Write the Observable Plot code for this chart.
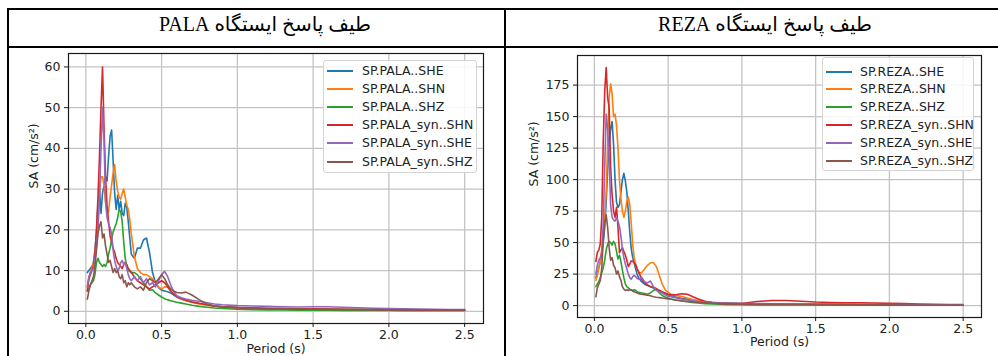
<!DOCTYPE html>
<html>
<head>
<meta charset="utf-8">
<script src="https://cdn.jsdelivr.net/npm/d3@7"></script>
<script src="https://cdn.jsdelivr.net/npm/@observablehq/plot@0.6"></script>
<style>
html, body { margin: 0; padding: 0; background: #fff; }
#page { position: relative; width: 998px; height: 356px; overflow: hidden; background: #fff; font-family: "DejaVu Sans", sans-serif; }
.rule { position: absolute; background: #000; }
.head { position: absolute; top: 12px; font-family: "Liberation Serif", "DejaVu Sans", serif; font-size: 20px; line-height: 24px; color: #000; white-space: nowrap; transform: translateX(-50%); }
.chart { position: absolute; top: 48px; }
.chart svg { overflow: visible; }
.legend { position: absolute; border: 1px solid #d4d4d4; border-radius: 3px; background: rgba(255,255,255,0.85); box-sizing: border-box; }
.legend .swatch { position: absolute; left: 3px; width: 26px; height: 2px; }
.legend .label { position: absolute; font-family: "DejaVu Sans", sans-serif; font-size: 12.5px; line-height: 16px; color: #222; white-space: nowrap; }
</style>
</head>
<body>
<div id="page">
  <div class="rule" style="left:7px; top:8px; width:991px; height:2px;"></div>
  <div class="rule" style="left:7px; top:46px; width:991px; height:2px;"></div>
  <div class="rule" style="left:7px; top:8px; width:2px; height:348px;"></div>
  <div class="rule" style="left:504px; top:8px; width:2px; height:348px;"></div>
  <div class="head" dir="rtl" style="left:265px;">طیف پاسخ ایستگاه PALA</div>
  <div class="head" dir="rtl" style="left:765px;">طیف پاسخ ایستگاه REZA</div>
  <div id="left" class="chart" style="left:10px;"></div>
  <div id="right" class="chart" style="left:507px;"></div>
</div>
<script>
const periods = [
  0.01,0.02,0.03,0.04,0.05,0.06,0.07,0.08,0.09,0.10,
  0.11,0.12,0.13,0.14,0.15,0.16,0.17,0.18,0.19,0.20,
  0.21,0.22,0.23,0.24,0.25,0.26,0.27,0.28,0.29,0.30,
  0.32,0.34,0.36,0.38,0.40,0.42,0.44,0.46,0.48,0.50,
  0.52,0.54,0.56,0.58,0.60,0.63,0.66,0.70,0.75,0.80,
  0.85,0.90,1.0,1.1,1.2,1.3,1.4,1.5,1.6,1.7,
  1.8,1.9,2.0,2.1,2.2,2.3,2.4,2.5
];

const palaNames = ["SP.PALA..SHE", "SP.PALA..SHN", "SP.PALA..SHZ", "SP.PALA_syn..SHN", "SP.PALA_syn..SHE", "SP.PALA_syn..SHZ"];
const rezaNames = ["SP.REZA..SHE", "SP.REZA..SHN", "SP.REZA..SHZ", "SP.REZA_syn..SHN", "SP.REZA_syn..SHE", "SP.REZA_syn..SHZ"];
const seriesColors = ["#1f77b4", "#ff7f0e", "#2ca02c", "#d62728", "#9467bd", "#8c564b"];

const xTicks = [0, 0.5, 1.0, 1.5, 2.0, 2.5];
const palaYTicks = [0, 10, 20, 30, 40, 50, 60];
const rezaYTicks = [0, 25, 50, 75, 100, 125, 150, 175];

const palaSHE = [
  9.5,10,10.5,11,12,15,19,26,30,24,
  29,31,33,32,38,43,44.5,37,29,25,
  28.5,25,27,24,23.5,26.5,25.5,22,18,14,
  13,15.5,15.5,17.5,18,14.5,9.5,7,5.8,5.2,
  5,4.8,4.5,4,3.5,3,2.7,2.3,1.9,1.6,
  1.3,1.1,0.9,0.8,0.7,0.65,0.6,0.55,0.5,0.45,
  0.42,0.4,0.37,0.35,0.33,0.3,0.3,0.28
];
const palaSHN = [
  6,8,9.5,10.5,12,14,18,22,29,33,
  33,31,27,24,24.5,28,31,34,36,32,
  29.5,28,27.5,29,30,28,26,25,22.5,19,
  13.5,10.5,9.5,9,9,8.5,8,7,6,5.5,
  6,6,5,4.2,3.6,3,2.6,2.2,1.8,1.5,
  1.2,1.0,0.8,0.7,0.6,0.55,0.5,0.48,0.45,0.42,
  0.4,0.37,0.35,0.33,0.31,0.3,0.28,0.27
];
const palaSHZ = [
  5,5.5,6.5,7,7.5,9,12,13,12,11.5,
  11,11.5,11,12,14,15.5,17.5,19.5,20.5,21.5,
  23,25,24.5,22,17,13,11,10,9.8,9.5,
  9.5,9,8,7,6,5.2,5.3,4.5,4,3.5,
  3.1,2.8,2.6,2.4,2.2,2,1.8,1.5,1.2,1.0,
  0.8,0.7,0.5,0.4,0.35,0.3,0.28,0.25,0.24,0.22,
  0.2,0.2,0.18,0.17,0.16,0.15,0.15,0.14
];
const palaSynSHN = [
  5,8,9,10,11,14,20,28,38,50,
  60,45,33,26,22,18.5,17,15.5,14.5,13,
  12,11.5,11,10.5,11.5,12,11.5,10.5,10,9.5,
  8.5,7.5,7,6.5,6,5.5,6,6.5,7,7.5,
  7,6,5,4.2,3.6,3.1,2.7,2.3,1.9,1.6,
  1.3,1.1,0.9,0.8,0.7,0.65,0.6,0.6,0.55,0.5,
  0.45,0.42,0.4,0.38,0.35,0.33,0.3,0.3
];
const palaSynSHE = [
  6,8.5,9.5,10,10.5,13,16,20,28,40,
  50,42,27,23,21.5,20.5,19,15,12.5,11,
  10,10.5,12,12.5,11.5,12,10.5,9,8,7.5,
  8.5,7.5,8.5,7,8,6.5,7,6,7.5,9,
  9.8,8.5,6.5,4.8,3.8,3.3,3,2.7,2.4,2.1,
  1.8,1.6,1.4,1.3,1.2,1.1,1.05,1.1,1.1,1.0,
  0.85,0.75,0.65,0.6,0.55,0.5,0.45,0.4
];
const palaSynSHZ = [
  3,5,6.5,7.5,8.5,11,15,19,21,22,
  18,19,16,14,12,12.5,11,9.5,10.5,9.5,
  10,8.5,8,9,7,7.5,6,7,6.5,7,
  6,5.5,6,5.2,7,8,7.5,7,8,9,
  8,6.5,5.5,5,4.6,4.5,4.7,4,2.8,1.8,
  1.3,1.1,0.9,0.75,0.65,0.6,0.55,0.5,0.48,0.45,
  0.42,0.4,0.38,0.35,0.33,0.3,0.3,0.28
];

const rezaSHE = [
  22,26,30,35,41,50,62,82,108,128,
  140,146,128,100,82,78,80,90,100,105,
  99,90,75,58,45,38,34,29,25,22,
  19,17,16,15,14,13,12,10.5,9.5,8.5,
  7.5,7,6.5,6,5.5,5,4.3,3.6,3,2.5,
  2.2,2,1.7,1.5,1.4,1.3,1.2,1.1,1.0,0.95,
  0.9,0.85,0.8,0.75,0.7,0.65,0.6,0.55
];
const rezaSHN = [
  20,24,30,35,45,55,70,90,130,165,
  176,168,150,152,143,125,100,85,75,70,
  75,83,86,80,65,48,38,33,29,26,
  26,29,32,34,34,31,24,17,12.5,10.5,
  9,8.5,8,7.5,7,6,5,4,3.2,2.6,
  2.2,1.9,1.6,1.4,1.3,1.2,1.1,1.0,0.95,0.9,
  0.85,0.8,0.75,0.7,0.65,0.6,0.58,0.55
];
const rezaSHZ = [
  15,17,19,22,26,30,36,44,49,51,
  50,48,51,49,43,37,40,35,28,22,
  17,15,14,13,12.5,12,12.5,12,11,10.5,
  10,9.5,9,10,12,13,10,8,6.8,6,
  5.2,4.6,4.2,3.8,3.4,3,2.5,2,1.6,1.3,
  1.1,0.9,0.7,0.6,0.55,0.5,0.48,0.45,0.42,0.4,
  0.38,0.36,0.35,0.33,0.32,0.3,0.3,0.28
];
const rezaSynSHN = [
  35,42,44,49,70,130,170,189,165,157,
  110,88,75,70,78,62,42,44,46,43,
  40,36,31,33,35.5,35,34,32,29,27,
  21,18,16.5,15,14.5,13.5,12,11,10,9,
  8.5,8.5,8.8,9.2,9.3,9,7.5,5.5,3.4,2.3,
  1.8,1.6,1.6,3.2,4,4,3.5,2.8,2.5,2.3,
  2.2,2,1.8,1.6,1.3,1.0,0.9,0.8
];
const rezaSynSHE = [
  25,32,36,38,42,65,110,152,140,118,
  80,70,68,67,70,67,63,55,45,38,
  33,29,25,22,21,23,24,23,21.5,21,
  22.5,19,18,19.5,15,12,11,10,8.5,7.5,
  7,6.5,6,5.5,5,4.5,4,3.4,2.8,2.4,
  2.1,1.9,1.7,1.6,1.5,1.4,1.3,1.2,1.1,1.0,
  0.95,0.9,0.85,0.8,0.75,0.7,0.65,0.6
];
const rezaSynSHZ = [
  7,14,17,20,30,52,66,72,62,46,
  36,38,32,30,25,27.5,23,20,15,13,
  12,12.5,12,12.5,12.4,11.5,11,10.5,10,9.5,
  9,8.6,8.2,7.8,7,6.6,6.3,6,5.6,5.3,
  5,4.6,4.3,4,3.7,3.3,3,2.6,2.2,1.9,
  1.6,1.4,1.2,1.0,0.95,0.9,0.85,0.8,0.75,0.7,
  0.65,0.6,0.55,0.5,0.48,0.45,0.42,0.4
];

const xDomain = [-0.1245 + 0.01, 2.5 + 0.1245];

function makeChart(cfg) {
  const rows = [];
  cfg.series.forEach((vals, k) => vals.forEach((v, i) => rows.push({period: periods[i], sa: v, name: cfg.names[k]})));
  return Plot.plot({
    width: cfg.width,
    height: cfg.height,
    marginLeft: cfg.ml, marginRight: cfg.mr, marginTop: cfg.mt, marginBottom: cfg.mb,
    style: {fontFamily: "DejaVu Sans, sans-serif", fontSize: "12.5px", color: "#222", background: "transparent", overflow: "visible"},
    x: {domain: xDomain, label: null},
    y: {domain: cfg.yDomain, label: null},
    color: {domain: cfg.names, range: seriesColors},
    marks: [
      Plot.gridX(xTicks, {stroke: "#c4c4c4", strokeOpacity: 1, strokeWidth: 1.3}),
      Plot.gridY(cfg.yTicks, {stroke: "#c4c4c4", strokeOpacity: 1, strokeWidth: 1.3}),
      Plot.line(rows, {x: "period", y: "sa", z: "name", stroke: "name", strokeWidth: 1.6}),
      Plot.frame({stroke: "#1a1a1a", strokeWidth: 1.2}),
      Plot.axisX(xTicks, {tickSize: 4, tickPadding: 3, tickFormat: d => d.toFixed(1), label: null, stroke: "#1a1a1a", fontSize: 12.5}),
      Plot.axisY(cfg.yTicks, {tickSize: 4, tickPadding: 4, label: null, stroke: "#1a1a1a", fontSize: 12.5}),
      Plot.text(["SA (cm/s²)"], {text: d => d, frameAnchor: "left", dx: -cfg.yLabelOff, rotate: -90, fontSize: 12.5, fill: "#222"}),
      Plot.text(["Period (s)"], {text: d => d, frameAnchor: "bottom", dy: cfg.xLabelOff, fontSize: 12.5, fill: "#222"})
    ]
  });
}

function makeLegend(names, box) {
  const div = document.createElement("div");
  div.className = "legend";
  div.style.left = box.left + "px";
  div.style.top = box.top + "px";
  div.style.width = box.width + "px";
  div.style.height = box.height + "px";
  names.forEach((n, i) => {
    const cy = box.first + i * box.step;
    const sw = document.createElement("div");
    sw.className = "swatch";
    sw.style.top = (cy - 1) + "px";
    sw.style.background = seriesColors[i];
    div.appendChild(sw);
    const lb = document.createElement("div");
    lb.className = "label";
    lb.style.left = box.textLeft + "px";
    lb.style.top = (cy - 8) + "px";
    lb.textContent = n;
    div.appendChild(lb);
  });
  return div;
}

const page = document.getElementById("page");

document.getElementById("left").appendChild(makeChart({
  series: [palaSHE, palaSHN, palaSHZ, palaSynSHN, palaSynSHE, palaSynSHZ],
  names: palaNames,
  yDomain: [-3.0, 63.3],
  yTicks: palaYTicks,
  width: 485, height: 308, ml: 58, mr: 12, mt: 5, mb: 33,
  yLabelOff: 35, xLabelOff: 29
}));

document.getElementById("right").appendChild(makeChart({
  series: [rezaSHE, rezaSHN, rezaSHZ, rezaSynSHN, rezaSynSHE, rezaSynSHZ],
  names: rezaNames,
  yDomain: [-9.45, 198.5],
  yTicks: rezaYTicks,
  width: 491, height: 308, ml: 70, mr: 17, mt: 7, mb: 39,
  yLabelOff: 44, xLabelOff: 28
}));

page.appendChild(makeLegend(palaNames, {left: 323, top: 60, width: 154, height: 113, first: 10, step: 18.1, textLeft: 38}));
page.appendChild(makeLegend(rezaNames, {left: 822, top: 57, width: 152, height: 114, first: 13.5, step: 17.8, textLeft: 37}));
</script>
</body>
</html>
